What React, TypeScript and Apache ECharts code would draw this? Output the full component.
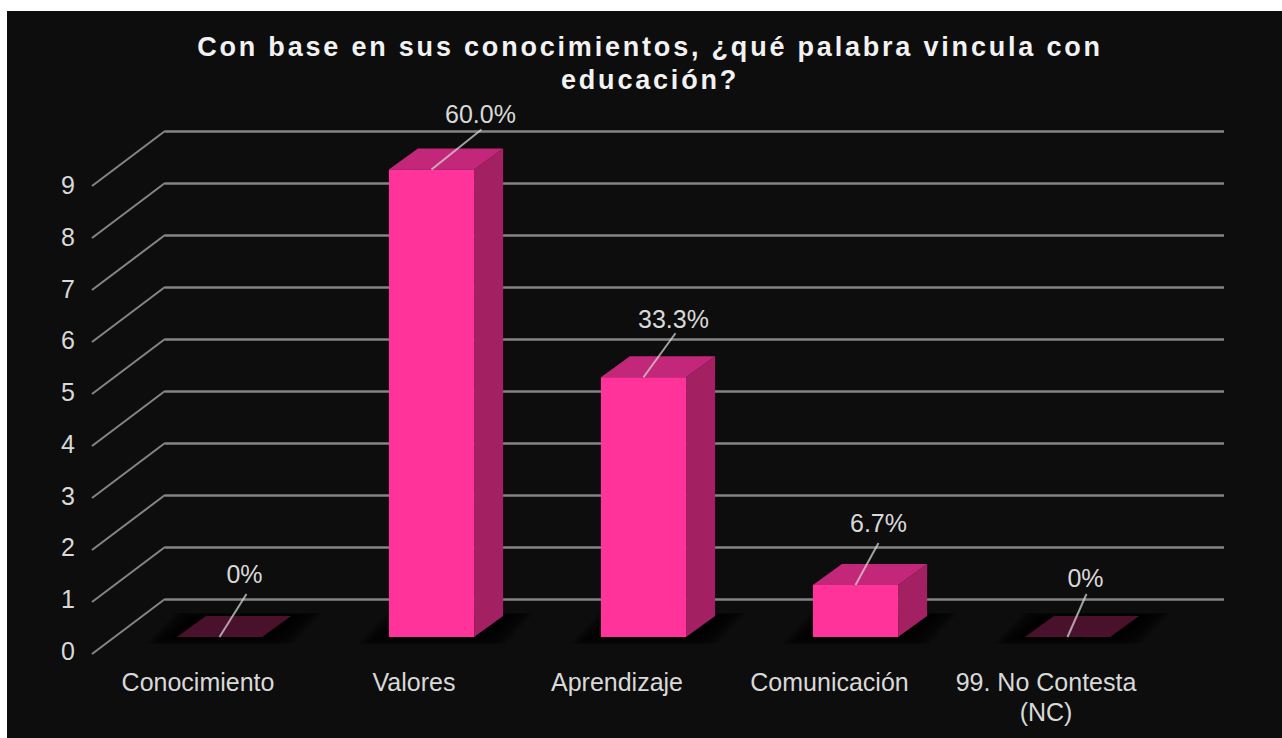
import React, { useEffect, useRef } from "react";
import * as echarts from "echarts";

const titleLines = ["Con base en sus conocimientos, ¿qué palabra vincula con", "educación?"];
const categories = ["Conocimiento", "Valores", "Aprendizaje", "Comunicación", "99. No Contesta\n(NC)"];
const counts = [0, 9, 5, 1, 0];
const percentLabels = ["0%", "60.0%", "33.3%", "6.7%", "0%"];
const gridTicks = [0, 1, 2, 3, 4, 5, 6, 7, 8, 9];

const leaderDx = [27, 50, 32, 23, 19];
const leaderDy = [-43, -40, -44, -42, -43];
const labelDx = [-2, -1, -2, 0, -1];
const labelDy = [-20, -16, -14, -20, -16];
const categoryPadding = [
  [0, 0, 0, 0],
  [0, 0, 0, 8],
  [0, 10, 0, 0],
  [0, 9, 0, 0],
  [0, 0, 0, 0],
];
const shadowLayers = [1, 0.85, 0.7, 0.55, 0.4, 0.28, 0.16, 0.06];

const FONT = "'Liberation Sans', Arial, sans-serif";
const TEXT = "#D9D9D9";
const LINE = "#858585";
const DEPTH_X = 29;
const DEPTH_Y = 21;

const hiddenAxis = { show: false };

export default function App() {
  const ref = useRef<HTMLDivElement>(null);
  useEffect(() => {
    const chart = echarts.init(ref.current!, undefined, { renderer: "svg" });
    const barGeom = (params: any, api: any) => {
      const i = api.value(0);
      const v = api.value(1);
      const [cx, yTop] = api.coord([i, v]);
      const [, y0] = api.coord([i, 0]);
      const w = api.size([1, 0])[0] * 0.402;
      return { i, v, l: cx - w / 2, r: cx + w / 2, cx, yTop, y0 };
    };
    const option: any = {
      animation: false,
      backgroundColor: "transparent",
      title: {
        text: titleLines.join("\n"),
        left: 645,
        top: 25,
        textAlign: "center",
        textStyle: { color: "#F2F2F2", fontFamily: FONT, fontWeight: "bold", fontSize: 27, lineHeight: 33 },
      },
      grid: [
        { left: 113.5, width: 1060, top: 169.5, height: 467.5 },
        { left: 92, width: 1060, top: 185, height: 466 },
        { left: 165, width: 1059, top: 131, height: 468 },
      ],
      xAxis: [
        { gridIndex: 0, type: "category", data: categories, ...hiddenAxis },
        {
          gridIndex: 1,
          type: "category",
          data: categories.map((c, i) => ({ value: c, textStyle: { padding: categoryPadding[i] } })),
          axisLine: { show: false },
          axisTick: { show: false },
          axisLabel: { color: TEXT, fontFamily: FONT, fontSize: 25, lineHeight: 30, margin: 16, interval: 0 },
        },
        { gridIndex: 2, type: "value", min: 0, max: 1, ...hiddenAxis },
      ],
      yAxis: [
        { gridIndex: 0, type: "value", min: 0, max: 9, interval: 1, ...hiddenAxis },
        {
          gridIndex: 1,
          type: "value",
          min: 0,
          max: 9,
          interval: 1,
          axisLine: { show: false },
          axisTick: { show: false },
          splitLine: { show: false },
          axisLabel: { color: TEXT, fontFamily: FONT, fontSize: 25, margin: 17 },
        },
        {
          gridIndex: 2,
          type: "value",
          min: 0,
          max: 9,
          interval: 1,
          axisLine: { show: false },
          axisTick: { show: false },
          axisLabel: { show: false },
          splitLine: { show: true, lineStyle: { color: LINE, width: 2.5 } },
        },
      ],
      series: [
        {
          type: "custom",
          name: "diagonals",
          xAxisIndex: 2,
          yAxisIndex: 2,
          silent: true,
          z: 1,
          data: gridTicks.map((t) => [0, t]),
          renderItem: (params: any, api: any) => {
            const [x, y] = api.coord([api.value(0), api.value(1)]);
            return {
              type: "line",
              shape: { x1: x, y1: y, x2: x - 73, y2: y + 55 },
              style: { stroke: LINE, lineWidth: 2 },
            };
          },
        },
        {
          type: "custom",
          name: "shadow",
          xAxisIndex: 0,
          yAxisIndex: 0,
          silent: true,
          z: 2,
          data: categories.map((c, i) => [i, counts[i]]),
          renderItem: (params: any, api: any) => {
            const g = barGeom(params, api);
            return {
              type: "group",
              children: shadowLayers.map((k) => ({
                type: "polygon",
                shape: {
                  points: [
                    [g.l - 30 * k, g.y0 + 7 * k],
                    [g.r + 30 * k, g.y0 + 7 * k],
                    [g.r + DEPTH_X + 30 * k, g.y0 - DEPTH_Y - 3 * k],
                    [g.l + DEPTH_X - 30 * k, g.y0 - DEPTH_Y - 3 * k],
                  ],
                },
                style: { fill: "#000000", opacity: 0.24 },
              })),
            };
          },
        },
        {
          type: "custom",
          name: "bars",
          xAxisIndex: 0,
          yAxisIndex: 0,
          silent: true,
          z: 3,
          data: categories.map((c, i) => [i, counts[i]]),
          renderItem: (params: any, api: any) => {
            const g = barGeom(params, api);
            const top = {
              type: "polygon",
              shape: {
                points: [
                  [g.l, g.yTop],
                  [g.r, g.yTop],
                  [g.r + DEPTH_X, g.yTop - DEPTH_Y],
                  [g.l + DEPTH_X, g.yTop - DEPTH_Y],
                ],
              },
              style: { fill: g.v === 0 ? "#4A112D" : "#C2277A" },
            };
            if (g.v === 0) return { type: "group", children: [top] };
            return {
              type: "group",
              children: [
                {
                  type: "polygon",
                  shape: {
                    points: [
                      [g.r, g.yTop],
                      [g.r + DEPTH_X, g.yTop - DEPTH_Y],
                      [g.r + DEPTH_X, g.y0 - DEPTH_Y],
                      [g.r, g.y0],
                    ],
                  },
                  style: { fill: "#A32063" },
                },
                top,
                {
                  type: "rect",
                  shape: { x: g.l, y: g.yTop, width: g.r - g.l, height: g.y0 - g.yTop },
                  style: { fill: "#FF3399" },
                },
              ],
            };
          },
        },
        {
          type: "custom",
          name: "labels",
          xAxisIndex: 0,
          yAxisIndex: 0,
          silent: true,
          z: 4,
          data: categories.map((c, i) => [i, counts[i]]),
          renderItem: (params: any, api: any) => {
            const g = barGeom(params, api);
            const ex = g.cx + leaderDx[g.i];
            const ey = g.yTop + leaderDy[g.i];
            return {
              type: "group",
              children: [
                {
                  type: "line",
                  shape: { x1: g.cx, y1: g.yTop, x2: ex, y2: ey },
                  style: { stroke: "rgba(217,217,217,0.72)", lineWidth: 2 },
                },
                {
                  type: "text",
                  x: ex + labelDx[g.i],
                  y: ey + labelDy[g.i],
                  style: {
                    text: percentLabels[g.i],
                    fill: TEXT,
                    font: `25px ${FONT}`,
                    align: "center",
                    verticalAlign: "middle",
                  },
                },
              ],
            };
          },
        },
      ],
    };
    chart.setOption(option);
    ref.current!.querySelectorAll("text").forEach((el) => {
      if (titleLines.includes((el.textContent || "").trim())) {
        (el as SVGTextElement).style.letterSpacing = "2.8px";
      }
    });
    return () => chart.dispose();
  }, []);
  return (
    <div style={{ position: "fixed", left: 0, top: 0, width: 1282, height: 738, background: "#FFFFFF", overflow: "hidden" }}>
      <div style={{ position: "absolute", left: 7, top: 11, right: 0, bottom: 0, background: "#0D0D0D" }} />
      <div ref={ref} style={{ position: "absolute", left: 0, top: 0, width: 1282, height: 738 }} />
    </div>
  );
}
